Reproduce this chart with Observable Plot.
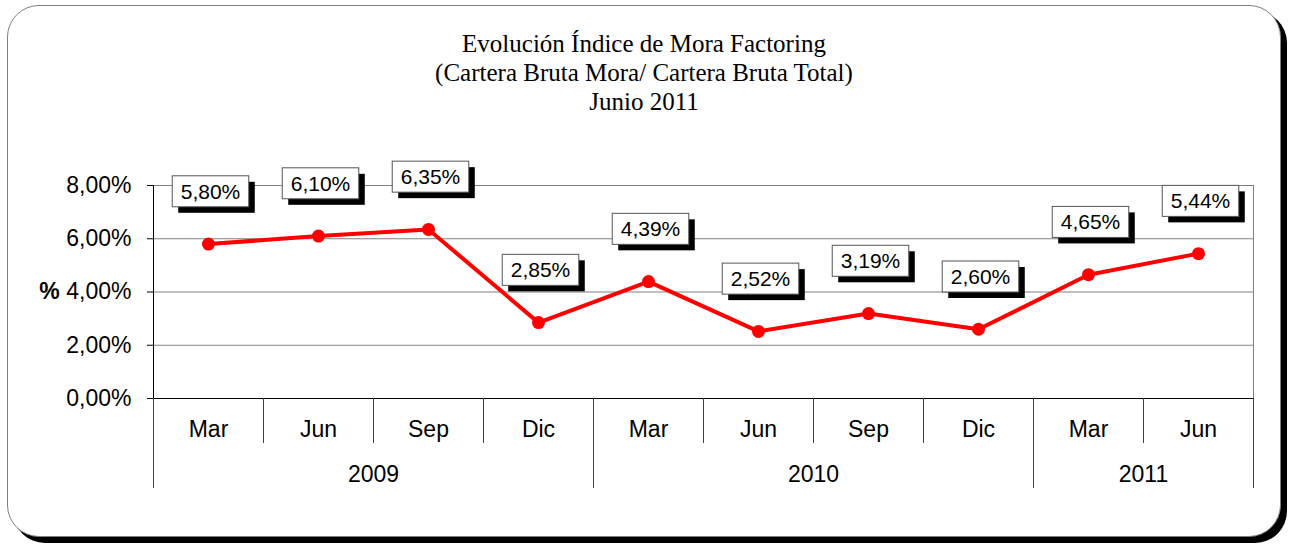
<!DOCTYPE html>
<html>
<head>
<meta charset="utf-8">
<script src="https://cdn.jsdelivr.net/npm/d3@7"></script>
<script src="https://cdn.jsdelivr.net/npm/@observablehq/plot@0.6"></script>
<style>
  html, body { margin: 0; padding: 0; background: #fff; }
  #wrap { position: relative; width: 1295px; height: 544px; overflow: hidden; background: #fff; }
  #frame { position: absolute; left: 7px; top: 5px; width: 1274px; height: 532px; box-sizing: border-box;
           border: 1px solid #7f7f7f; border-radius: 32px; box-shadow: 6px 6px 0 #000; background: #fff; }
  #title { position: absolute; left: 7px; width: 1274px; top: 29px; text-align: center;
           font-family: "Liberation Serif", "Times New Roman", serif; font-size: 25px; line-height: 29px; color: #000; }
  #chart { position: absolute; left: 0; top: 150px; }
</style>
</head>
<body>
<div id="wrap">
  <div id="frame"></div>
  <div id="title">Evolución Índice de Mora Factoring<br>(Cartera Bruta Mora/ Cartera Bruta Total)<br>Junio 2011</div>
  <div id="chart"></div>
</div>
<script>
const years  = ["2009","2009","2009","2009","2010","2010","2010","2010","2011","2011"];
const months = ["Mar","Jun","Sep","Dic","Mar","Jun","Sep","Dic","Mar","Jun"];
const values = [5.80, 6.10, 6.35, 2.85, 4.39, 2.52, 3.19, 2.60, 4.65, 5.44];
const yTicks = [0, 2, 4, 6, 8];
const yLabel = "%";

const fmt = v => v.toFixed(2).replace(".", ",") + "%";
const rows = values.map((v, i) => ({i, x: i + 0.5, v, month: months[i], year: years[i]}));

// year groups
const groups = [];
years.forEach((y, i) => {
  const g = groups[groups.length - 1];
  if (g && g.year === y) g.end = i + 1; else groups.push({year: y, start: i, end: i + 1});
});
const monthBounds = d3.range(0, months.length + 1);
const yearBounds = [0, ...groups.map(g => g.end)];
const yearCenters = groups.map(g => (g.start + g.end) / 2);
const yearByCenter = new Map(groups.map(g => [(g.start + g.end) / 2, g.year]));
const monthCenters = rows.map(d => d.x);

const font = "'Liberation Sans', Arial, sans-serif";

const chart = Plot.plot({
  width: 1295,
  height: 350,
  marginTop: 35,
  marginBottom: 102,
  marginLeft: 153,
  marginRight: 42,
  style: {fontFamily: font, fontSize: "23px", color: "#000", background: "transparent", overflow: "visible"},
  x: {type: "linear", domain: [0, months.length]},
  y: {domain: [0, 8]},
  marks: [
    Plot.gridY(yTicks.filter(t => t > 0), {stroke: "#808080", strokeOpacity: 1, strokeWidth: 1}),
    Plot.ruleX([months.length], {stroke: "#808080", strokeWidth: 1}),
    Plot.ruleX([0], {stroke: "#000", strokeWidth: 1}),
    Plot.ruleY([0], {stroke: "#000", strokeWidth: 1}),
    Plot.axisY({ticks: yTicks, tickFormat: fmt, tickSize: 6, tickPadding: 16, label: null, fontSize: 23, stroke: "#000"}),
    Plot.text([yLabel], {frameAnchor: "left", dx: -104, fontWeight: "bold", fontSize: 23, textAnchor: "middle"}),
    // month separators
    Plot.axisX({ticks: monthBounds, tickSize: 45, tickFormat: () => "", stroke: "#404040", label: null}),
    // year separators
    Plot.axisX({ticks: yearBounds, tickSize: 90, tickFormat: () => "", stroke: "#404040", label: null}),
    // month labels
    Plot.axisX({ticks: monthCenters, tickSize: 0, tickPadding: 22, tickFormat: v => months[Math.floor(v)], fontSize: 23, label: null}),
    // year labels
    Plot.axisX({ticks: yearCenters, tickSize: 0, tickPadding: 67, tickFormat: v => yearByCenter.get(v), fontSize: 23, label: null}),
    Plot.line(rows, {x: "x", y: "v", stroke: "#ff0000", strokeWidth: 4}),
    Plot.dot(rows, {x: "x", y: "v", r: 6.5, fill: "#ff0000", stroke: "none"}),
    Plot.text(rows, {x: "x", y: "v", text: d => fmt(d.v), dy: -52, dx: 2, fontSize: 21, fill: "#000"})
  ]
});

document.getElementById("chart").appendChild(chart);

// boxes with drop shadow behind value labels (last text mark)
const ns = "http://www.w3.org/2000/svg";
const textGroups = chart.querySelectorAll('g[aria-label="text"]');
const labelGroup = textGroups[textGroups.length - 1];
labelGroup.querySelectorAll("text").forEach(t => {
  const bb = t.getBBox();
  const w = bb.width + 17, h = 31;
  const x = bb.x + bb.width / 2 - w / 2;
  const y = bb.y + bb.height / 2 - h / 2;
  const sh = document.createElementNS(ns, "rect");
  sh.setAttribute("x", x + 6); sh.setAttribute("y", y + 6);
  sh.setAttribute("width", w); sh.setAttribute("height", h);
  sh.setAttribute("fill", "#000");
  const bx = document.createElementNS(ns, "rect");
  bx.setAttribute("x", x); bx.setAttribute("y", y);
  bx.setAttribute("width", w); bx.setAttribute("height", h);
  bx.setAttribute("fill", "#fff"); bx.setAttribute("stroke", "#555"); bx.setAttribute("stroke-width", 1);
  if (t.getAttribute("transform")) {
    sh.setAttribute("transform", t.getAttribute("transform"));
    bx.setAttribute("transform", t.getAttribute("transform"));
  }
  t.parentNode.insertBefore(sh, t);
  t.parentNode.insertBefore(bx, t);
});
</script>
</body>
</html>
